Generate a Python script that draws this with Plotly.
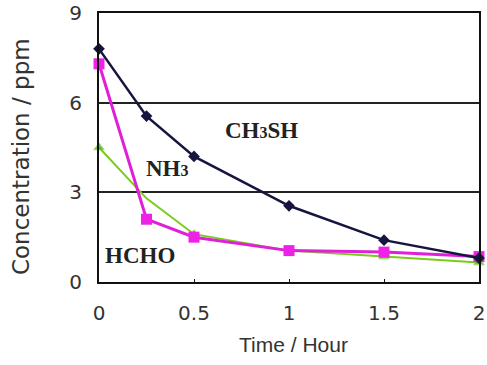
import plotly.graph_objects as go

time_ch3sh = [0, 0.25, 0.5, 1.0, 1.5, 2.0]
ch3sh = [7.8, 5.55, 4.2, 2.55, 1.4, 0.8]

time_nh3 = [0, 0.25, 0.5, 1.0, 1.5, 2.0]
nh3 = [7.3, 2.1, 1.5, 1.05, 1.0, 0.85]

time_hcho = [0, 0.25, 0.5, 1.0, 1.5, 2.0]
hcho = [4.5, 2.8, 1.6, 1.05, 0.85, 0.65]

x_ticks = [0, 0.5, 1, 1.5, 2]
x_tick_labels = ["0", "0.5", "1", "1.5", "2"]
y_ticks = [0, 3, 6, 9]
y_tick_labels = ["0", "3", "6", "9"]

labels = ["<b>CH<span style='font-size:16px'>3</span>SH</b>",
          "<b>NH<span style='font-size:16px'>3</span></b>",
          "<b>HCHO</b>"]
label_x = [0.853, 0.363, 0.216]
label_y = [5.08, 3.81, 0.90]

x_title = "Time / Hour"
y_title = "Concentration / ppm"

hcho_marker_sizes = [9, 0, 9, 9, 9, 9]

fig = go.Figure()
fig.add_trace(go.Scatter(x=time_hcho, y=hcho, mode="lines+markers", name="HCHO",
                         line=dict(color="#7acc1a", width=2),
                         marker=dict(symbol="triangle-up", size=hcho_marker_sizes, color="#44aa22"),
                         cliponaxis=False))
fig.add_trace(go.Scatter(x=time_nh3, y=nh3, mode="lines+markers", name="NH3",
                         line=dict(color="#e020d8", width=3),
                         marker=dict(symbol="square", size=11, color="#ee22e6"),
                         cliponaxis=False))
fig.add_trace(go.Scatter(x=time_ch3sh, y=ch3sh, mode="lines+markers", name="CH3SH",
                         line=dict(color="#15153f", width=2.5),
                         marker=dict(symbol="diamond", size=9, color="#15153f"),
                         cliponaxis=False))

for t, lx, ly in zip(labels, label_x, label_y):
    fig.add_annotation(x=lx, y=ly, text=t, showarrow=False,
                       font=dict(family="Liberation Serif", size=23, color="#222222"),
                       xanchor="center", yanchor="middle")

fig.add_annotation(xref="paper", yref="paper", x=0.513, y=-0.234, text=x_title,
                   showarrow=False, xanchor="center", yanchor="middle",
                   font=dict(family="Liberation Sans", size=21, color="#333333"))
fig.add_annotation(xref="paper", yref="paper", x=-0.205, y=0.465, text=y_title,
                   showarrow=False, xanchor="center", yanchor="middle", textangle=-90,
                   font=dict(family="DejaVu Sans", size=23, color="#333333"))

fig.update_layout(
    width=487, height=365,
    margin=dict(l=99, r=8, t=13, b=83, autoexpand=False),
    paper_bgcolor="white", plot_bgcolor="white",
    showlegend=False,
    font=dict(family="DejaVu Sans", size=20, color="#333333"),
)
fig.update_xaxes(range=[0, 2], tickvals=x_ticks, ticktext=x_tick_labels,
                 showgrid=False, zeroline=False, automargin=False,
                 showline=True, linecolor="#111111", linewidth=2, mirror=True,
                 ticks="inside", ticklen=3, tickcolor="#111111",
                 ticklabelstandoff=12,
                 tickfont=dict(family="DejaVu Sans", size=20, color="#333333"))
fig.update_yaxes(range=[0, 9], tickvals=y_ticks, ticktext=y_tick_labels,
                 showgrid=True, gridcolor="#222222", gridwidth=1.5,
                 zeroline=False, automargin=False,
                 showline=True, linecolor="#111111", linewidth=2, mirror=True,
                 ticks="", ticklabelstandoff=11,
                 tickfont=dict(family="DejaVu Sans", size=20, color="#333333"))

fig.write_html("out.html")
